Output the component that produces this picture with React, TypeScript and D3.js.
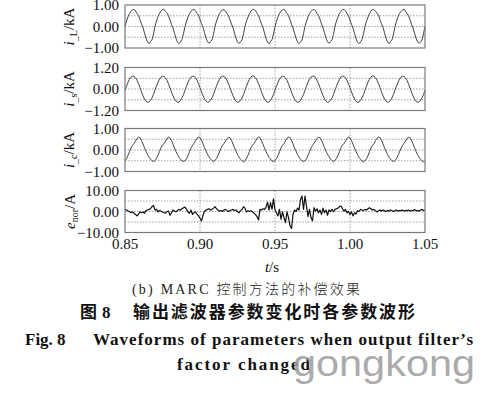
import React from "react";
import * as d3 from "d3";

// ---- data (sampled every 1 ms from t = 0.85 s to 1.05 s) ----
const T_START = 0.85;
const T_STEP = 0.001;

const iL = [
  0, 0.25, 0.45, 0.6, 0.7, 0.78, 0.8, 0.72, 0.6, 0.52, 0.32, 0.12, -0.05, -0.3, -0.55, -0.72, -0.79, -0.7, -0.62, -0.35,
  0.02, 0.26, 0.46, 0.62, 0.72, 0.79, 0.8, 0.7, 0.62, 0.5, 0.3, 0.1, -0.07, -0.32, -0.56, -0.73, -0.8, -0.72, -0.6, -0.33,
  0.0, 0.24, 0.44, 0.6, 0.71, 0.77, 0.81, 0.73, 0.61, 0.53, 0.33, 0.13, -0.04, -0.29, -0.54, -0.71, -0.78, -0.7, -0.63, -0.36,
  0.01, 0.25, 0.45, 0.61, 0.7, 0.78, 0.79, 0.71, 0.6, 0.51, 0.31, 0.11, -0.06, -0.31, -0.55, -0.72, -0.79, -0.71, -0.62, -0.34,
  0.02, 0.26, 0.44, 0.6, 0.72, 0.79, 0.8, 0.72, 0.62, 0.52, 0.32, 0.12, -0.05, -0.3, -0.56, -0.73, -0.8, -0.7, -0.61, -0.35,
  0.0, 0.25, 0.46, 0.61, 0.71, 0.78, 0.81, 0.71, 0.61, 0.51, 0.31, 0.11, -0.06, -0.31, -0.55, -0.72, -0.79, -0.71, -0.63, -0.34,
  0.01, 0.24, 0.45, 0.6, 0.7, 0.77, 0.8, 0.73, 0.6, 0.52, 0.33, 0.12, -0.05, -0.3, -0.54, -0.71, -0.78, -0.7, -0.62, -0.36,
  0.02, 0.26, 0.45, 0.62, 0.71, 0.79, 0.8, 0.72, 0.61, 0.5, 0.3, 0.1, -0.07, -0.32, -0.56, -0.73, -0.8, -0.72, -0.61, -0.33,
  0.0, 0.25, 0.44, 0.6, 0.72, 0.78, 0.79, 0.71, 0.62, 0.53, 0.32, 0.13, -0.04, -0.29, -0.55, -0.72, -0.79, -0.7, -0.62, -0.35,
  0.01, 0.24, 0.46, 0.61, 0.7, 0.77, 0.81, 0.72, 0.6, 0.51, 0.31, 0.11, -0.06, -0.31, -0.55, -0.71, -0.78, -0.71, -0.63, -0.34,
  0.01,
];

const iS = [
  -0.07, 0.16, 0.37, 0.55, 0.67, 0.72, 0.71, 0.63, 0.49, 0.3, 0.07, -0.16, -0.38, -0.56, -0.69, -0.74, -0.72, -0.64, -0.49, -0.3,
  -0.06, 0.17, 0.38, 0.55, 0.67, 0.72, 0.7, 0.62, 0.48, 0.29, 0.06, -0.17, -0.38, -0.56, -0.68, -0.74, -0.73, -0.64, -0.5, -0.31,
  -0.07, 0.16, 0.37, 0.54, 0.66, 0.71, 0.71, 0.63, 0.49, 0.3, 0.07, -0.16, -0.37, -0.55, -0.68, -0.75, -0.72, -0.63, -0.49, -0.3,
  -0.06, 0.17, 0.38, 0.55, 0.67, 0.72, 0.71, 0.62, 0.48, 0.29, 0.06, -0.17, -0.38, -0.56, -0.69, -0.74, -0.72, -0.64, -0.5, -0.31,
  -0.07, 0.16, 0.37, 0.55, 0.67, 0.73, 0.71, 0.63, 0.49, 0.3, 0.07, -0.16, -0.37, -0.56, -0.68, -0.74, -0.73, -0.63, -0.49, -0.3,
  -0.06, 0.16, 0.37, 0.55, 0.67, 0.72, 0.7, 0.62, 0.48, 0.29, 0.06, -0.17, -0.38, -0.56, -0.69, -0.74, -0.72, -0.64, -0.49, -0.31,
  -0.07, 0.17, 0.38, 0.55, 0.66, 0.72, 0.71, 0.63, 0.49, 0.3, 0.07, -0.16, -0.37, -0.55, -0.68, -0.75, -0.72, -0.63, -0.5, -0.3,
  -0.06, 0.16, 0.37, 0.55, 0.67, 0.72, 0.71, 0.62, 0.48, 0.29, 0.06, -0.17, -0.38, -0.56, -0.69, -0.74, -0.73, -0.64, -0.49, -0.31,
  -0.07, 0.16, 0.38, 0.55, 0.67, 0.73, 0.71, 0.63, 0.49, 0.3, 0.07, -0.16, -0.37, -0.56, -0.68, -0.74, -0.72, -0.63, -0.49, -0.3,
  -0.06, 0.17, 0.37, 0.55, 0.67, 0.72, 0.7, 0.62, 0.48, 0.29, 0.06, -0.17, -0.38, -0.56, -0.69, -0.74, -0.72, -0.64, -0.5, -0.31,
  -0.07,
];

const iC = [
  -0.5, -0.4, -0.25, -0.08, 0.1, 0.22, 0.3, 0.42, 0.54, 0.6, 0.57, 0.45, 0.28, 0.1, -0.06, -0.2, -0.33, -0.42, -0.5, -0.54,
  -0.49, -0.39, -0.24, -0.07, 0.11, 0.23, 0.29, 0.41, 0.53, 0.61, 0.56, 0.44, 0.27, 0.09, -0.07, -0.21, -0.34, -0.43, -0.51, -0.53,
  -0.5, -0.41, -0.26, -0.08, 0.1, 0.21, 0.31, 0.43, 0.55, 0.6, 0.58, 0.46, 0.29, 0.11, -0.05, -0.2, -0.32, -0.42, -0.49, -0.54,
  -0.48, -0.4, -0.25, -0.09, 0.09, 0.22, 0.3, 0.42, 0.53, 0.59, 0.57, 0.45, 0.28, 0.1, -0.06, -0.21, -0.33, -0.43, -0.5, -0.55,
  -0.5, -0.39, -0.24, -0.07, 0.11, 0.23, 0.3, 0.41, 0.54, 0.61, 0.56, 0.44, 0.27, 0.09, -0.07, -0.2, -0.34, -0.42, -0.51, -0.54,
  -0.49, -0.4, -0.26, -0.08, 0.1, 0.22, 0.29, 0.43, 0.55, 0.6, 0.58, 0.46, 0.28, 0.1, -0.05, -0.21, -0.33, -0.43, -0.5, -0.53,
  -0.5, -0.41, -0.25, -0.09, 0.09, 0.21, 0.31, 0.42, 0.53, 0.6, 0.57, 0.45, 0.29, 0.11, -0.06, -0.2, -0.32, -0.42, -0.49, -0.54,
  -0.48, -0.39, -0.24, -0.07, 0.11, 0.23, 0.3, 0.41, 0.54, 0.61, 0.56, 0.44, 0.27, 0.09, -0.07, -0.21, -0.34, -0.43, -0.51, -0.55,
  -0.5, -0.4, -0.26, -0.08, 0.1, 0.22, 0.29, 0.43, 0.55, 0.6, 0.58, 0.46, 0.28, 0.1, -0.05, -0.2, -0.33, -0.42, -0.5, -0.54,
  -0.49, -0.41, -0.25, -0.09, 0.09, 0.21, 0.31, 0.42, 0.53, 0.59, 0.57, 0.45, 0.29, 0.11, -0.06, -0.21, -0.33, -0.43, -0.5, -0.55,
  -0.52,
];

const eNor = [
  1.0, 0.7, 0.2, 0.0, -0.6, -0.2, -0.8, -1.4, -2.1, -1.3,
  -0.2, -0.6, -0.2, -0.8, 0.4, 0.7, 1.0, 1.3, 2.3, 2.9,
  0.7, 1.0, -0.2, 0.5, 0.2, -0.2, -0.6, -0.8, 0.0, 0.2,
  -1.8, -0.6, 0.7, 0.2, -0.2, 0.5, 1.0, 0.7, 1.3, 1.8,
  2.1, 1.0, -0.2, -0.8, 0.7, -1.4, -0.6, -0.2, -1.2, -2.1,
  -3.2, -4.5, -1.8, 0.0, 0.7, 1.0, 1.3, 0.7, 1.0, 1.6,
  2.3, 1.3, 0.7, 0.2, 0.5, 0.0, 0.7, 1.0, 0.4, 0.0,
  0.5, 0.7, 1.0, 0.5, 0.7, 0.0, -0.6, 0.4, 1.0, 2.3,
  1.6, -0.2, 0.4, 0.0, 0.4, -0.2, -0.8, -1.5, -2.4, -4.0,
  1.0, 0.7, 1.3, 1.0, 2.0, 4.5, 0.7, 4.2, 1.0, 6.0,
  0.7, -0.6, -2.1, 1.0, -3.7, -0.2, -2.9, -5.3, -0.2, -2.9,
  -6.8, -8.1, -1.4, 0.7, 0.0, 1.6, 0.7, 5.7, 7.3, 1.0,
  7.3, 2.6, -2.4, 1.0, -2.9, -4.5, 1.8, 0.2, 1.3, -0.6,
  0.7, -1.4, 1.6, -0.6, 0.7, -1.8, 0.7, 0.0, 1.0, -0.1,
  1.0, 1.3, 1.6, 2.3, 2.6, 1.3, 0.2, 1.0, -0.6, 0.0,
  -1.4, -0.2, -2.1, -0.6, -1.2, 0.4, 0.0, 1.0, 0.7, 0.4,
  1.0, 0.7, 1.3, 1.8, 1.3, 0.7, 1.0, 0.4, -0.2, 0.4,
  0.7, 0.2, 0.7, 0.4, 0.0, 0.5, 0.2, 0.7, 0.4, 0.0,
  0.5, 0.7, 0.2, 0.5, 0.4, 0.7, 0.2, 0.5, 0.4, 0.7,
  0.2, 0.5, 0.4, 0.9, 0.4, 0.5, 0.2, 0.7, 1.0, 0.5,
  0.7,
];

const xTicks = [0.85, 0.9, 0.95, 1.0, 1.05];
const xGrid = [0.9, 0.95, 1.0];
const yTicksL = [1, 0, -1];
const yTicksS = [1.2, 0, -1.2];
const yTicksC = [1, 0, -1];
const yTicksE = [10, 0, -10];
const yGridL = [0.5, 0, -0.5];
const yGridS = [0.6, 0, -0.6];
const yGridC = [0.5, 0, -0.5];
const yGridE = [5, 0, -5];

const SERIF = "'Liberation Serif', 'Times New Roman', serif";
const CJK = "'Noto Sans CJK SC', sans-serif";

export default function App() {
  const W = 497;
  const H = 393;
  const x0 = 125;
  const x1 = 425;
  const x = d3.scaleLinear().domain([0.85, 1.05]).range([x0, x1]);
  const fmt = d3.format(".2f");

  const panels = [
    { top: 5, bottom: 48, max: 1, data: iL, ticks: yTicksL, grid: yGridL, lab: "L", kind: "i", width: 1, color: "#444" },
    { top: 67.5, bottom: 110.5, max: 1.2, data: iS, ticks: yTicksS, grid: yGridS, lab: "s", kind: "i", width: 1, color: "#444" },
    { top: 128.5, bottom: 171.5, max: 1, data: iC, ticks: yTicksC, grid: yGridC, lab: "c", kind: "i", width: 1, color: "#444" },
    { top: 190.5, bottom: 232.5, max: 10, data: eNor, ticks: yTicksE, grid: yGridE, lab: "nor", kind: "e", width: 1.2, color: "#111" },
  ];

  return (
    <svg
      width={W}
      height={H}
      style={{ position: "absolute", left: 0, top: 0, background: "#fff" }}
    >
      <rect x={0} y={0} width={W} height={H} fill="#fff" />
      {panels.map((p, pi) => {
        const y = d3.scaleLinear().domain([-p.max, p.max]).range([p.bottom, p.top]);
        const line = d3
          .line<number>()
          .x((_, i) => x(T_START + i * T_STEP))
          .y((v) => y(v));
        const cy = (p.top + p.bottom) / 2;
        return (
          <g key={pi}>
            {p.grid.map((g, gi) => (
              <line key={"h" + gi} x1={x0} x2={x1} y1={y(g)} y2={y(g)} stroke="#8a8a8a" strokeWidth={0.8} strokeDasharray="1.5,1.5" />
            ))}
            {xGrid.map((g, gi) => (
              <line key={"v" + gi} x1={x(g)} x2={x(g)} y1={p.top} y2={p.bottom} stroke="#8a8a8a" strokeWidth={0.8} strokeDasharray="1.5,1.5" />
            ))}
            <path d={line(p.data) || ""} fill="none" stroke={p.color} strokeWidth={p.width} strokeLinejoin="round" />
            <rect x={x0} y={p.top} width={x1 - x0} height={p.bottom - p.top} fill="none" stroke="#7a7a7a" strokeWidth={1.2} />
            {p.ticks.map((t, ti) => (
              <text key={"t" + ti} x={119} y={y(t) + 5} textAnchor="end" fontFamily={SERIF} fontSize={15} fill="#111">
                {fmt(t)}
              </text>
            ))}
            <text
              transform={`translate(${p.kind === "e" ? 75 : 74},${cy}) rotate(-90)`}
              textAnchor="middle"
              fontFamily={SERIF}
              fontSize={15}
              fill="#111"
            >
              <tspan fontStyle="italic">{p.kind}</tspan>
              <tspan fontSize={10} dy={3}>{p.kind === "i" ? "_" + p.lab : p.lab}</tspan>
              <tspan dy={-3}>{p.kind === "i" ? "/kA" : "/A"}</tspan>
            </text>
          </g>
        );
      })}
      {xTicks.map((t, i) => (
        <text key={i} x={x(t)} y={248.5} textAnchor="middle" fontFamily={SERIF} fontSize={15} fill="#111">
          {fmt(t)}
        </text>
      ))}
      <text x={272} y={272} textAnchor="middle" fontFamily={SERIF} fontSize={15} fill="#111">
        <tspan fontStyle="italic">t</tspan>/s
      </text>
      <text x={132} y={294} fontSize={14} fill="#222" textLength={228} lengthAdjust="spacing">
        <tspan fontFamily={SERIF}>(b) MARC </tspan>
        <tspan fontFamily={CJK} fontWeight={300}>控制方法的补偿效果</tspan>
      </text>
      <text x={80} y={318} fontSize={17} fill="#111">
        <tspan fontFamily={CJK} fontWeight={700}>图</tspan>
        <tspan fontFamily={SERIF} fontWeight={700} dx={5}>8</tspan>
      </text>
      <text x={133} y={318} fontSize={17} fill="#111" fontFamily={CJK} fontWeight={700} textLength={282} lengthAdjust="spacing">
        输出滤波器参数变化时各参数波形
      </text>
      <text x={25} y={345} fontSize={17} fill="#111" fontFamily={SERIF} fontWeight={700}>
        Fig. 8
      </text>
      <text x={93} y={345} fontSize={17} fill="#111" fontFamily={SERIF} fontWeight={700} textLength={380} lengthAdjust="spacing">
        Waveforms of parameters when output filter’s
      </text>
      <text x={177} y={370} fontSize={17} fill="#111" fontFamily={SERIF} fontWeight={700} textLength={133} lengthAdjust="spacing">
        factor changed
      </text>
      <text x={293} y={376} fontSize={37} fill="#a0a0a0" fillOpacity={0.9} fontFamily="'Liberation Sans', Arial, sans-serif" textLength={182} lengthAdjust="spacingAndGlyphs">
        gongkong
      </text>
    </svg>
  );
}
